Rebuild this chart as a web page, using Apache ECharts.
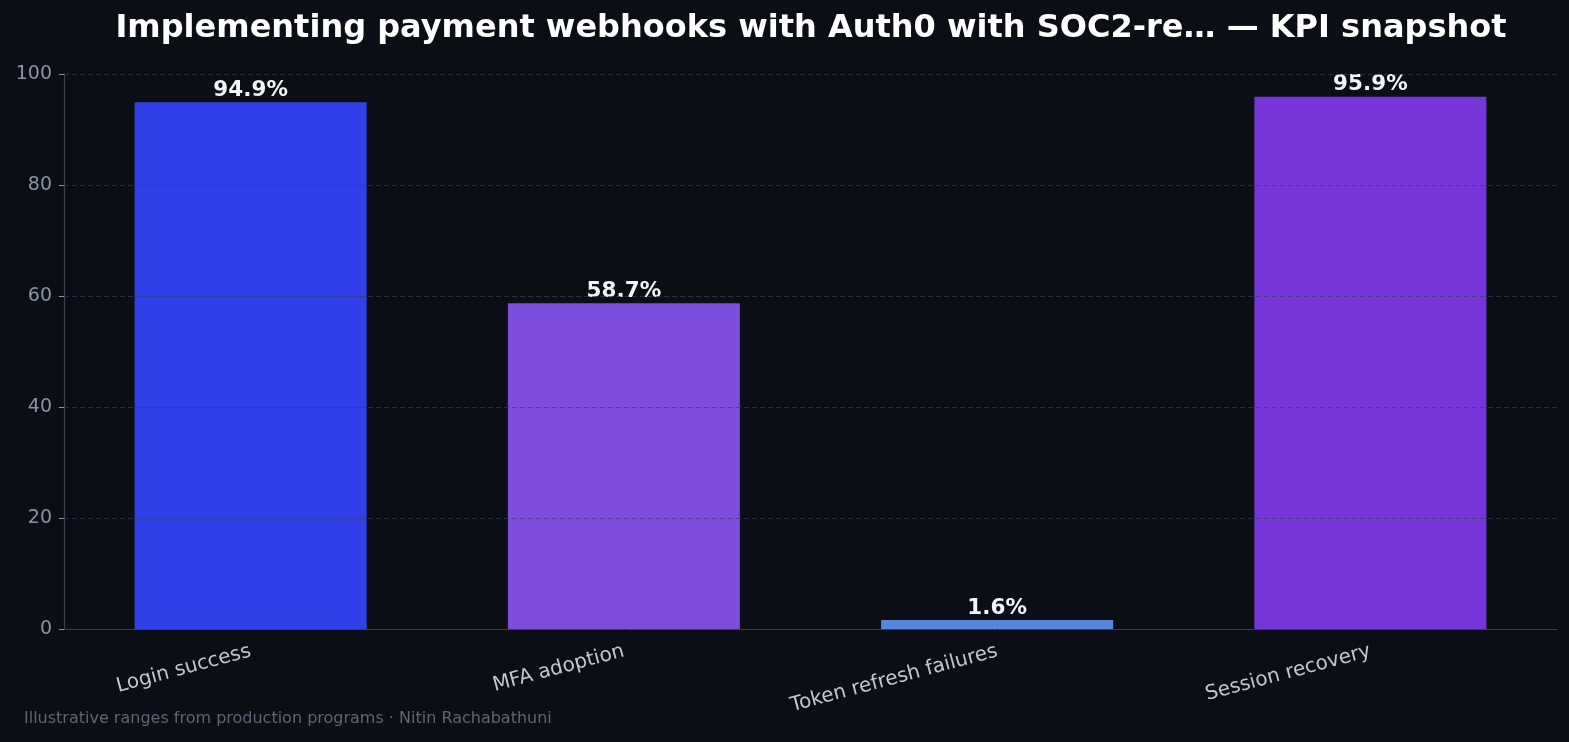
<!DOCTYPE html>
<html>
<head>
<meta charset="utf-8">
<script src="https://cdn.jsdelivr.net/npm/echarts@6/dist/echarts.min.js"></script>
<style>
html,body{margin:0;padding:0;background:#0b0e14;}
#c{width:1569px;height:742px;}
</style>
</head>
<body>
<div id="c"></div>
<script>
const titleText = 'Implementing payment webhooks with Auth0 with SOC2-re\u2026 \u2014 KPI snapshot';
const footerText = 'Illustrative ranges from production programs \u00b7 Nitin Rachabathuni';
const categories = ['Login success', 'MFA adoption', 'Token refresh failures', 'Session recovery'];
const values = [94.9, 58.7, 1.6, 95.9];
const barColors = ['#2f40ea', '#7d4ddd', '#5585dd', '#7535d8'];
const yTicks = [0, 20, 40, 60, 80, 100];

const chart = echarts.init(document.getElementById('c'), null, {renderer: 'canvas'});
const font = 'DejaVu Sans';
chart.setOption({
  backgroundColor: '#0b0e14',
  animation: false,
  title: {
    text: titleText,
    left: 806, top: 8, textAlign: 'center',
    textStyle: {color: '#ffffff', fontFamily: font, fontWeight: 'bold', fontSize: 32}
  },
  graphic: [{
    type: 'text', left: 24, top: 711,
    style: {text: footerText, fill: '#5d6677', font: '16px "DejaVu Sans"'}
  }],
  grid: {left: 64, right: 12, top: 74, bottom: 113, containLabel: false},
  xAxis: {
    type: 'category',
    data: categories,
    axisLine: {lineStyle: {color: '#3a4252', width: 1.2}},
    axisTick: {show: true, alignWithLabel: true, length: 5, lineStyle: {color: '#05070a'}},
    axisLabel: {rotate: 15, color: '#c0c6d2', fontFamily: font, fontSize: 20, margin: 22, align: 'right'}
  },
  yAxis: {
    type: 'value', min: 0, max: 100, interval: 20, z: 5,
    axisLine: {show: true, lineStyle: {color: '#3a4252', width: 1.2}},
    axisTick: {show: true, length: 5, lineStyle: {color: '#8a94a8'}},
    axisLabel: {color: '#8a94a8', fontFamily: font, fontSize: 19, margin: 12},
    splitLine: {show: true, lineStyle: {color: 'rgba(55,62,88,0.65)', type: [5, 3], width: 1}}
  },
  series: [{
    type: 'bar',
    data: values.map((v, i) => ({value: v, itemStyle: {color: barColors[i]}})),
    barWidth: 232,
    label: {
      show: true, position: 'top', distance: 1,
      formatter: p => p.value.toFixed(1) + '%',
      color: '#f2f4f8', fontFamily: font, fontWeight: 'bold', fontSize: 21.5
    }
  }]
});
</script>
</body>
</html>
